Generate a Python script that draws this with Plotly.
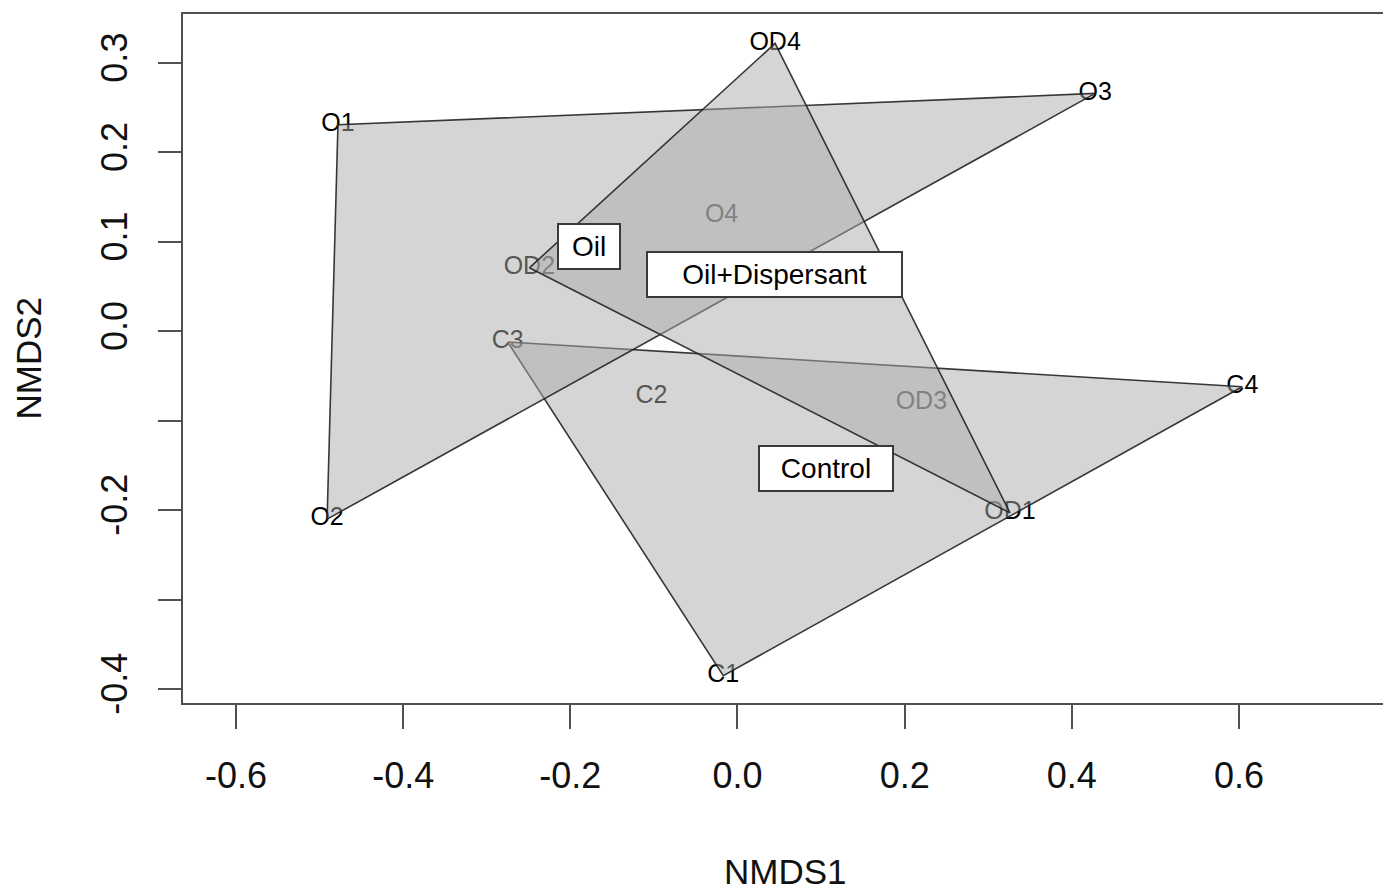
import plotly.graph_objects as go

# NMDS site scores
sites = ["O1", "O2", "O3", "O4", "OD1", "OD2", "OD3", "OD4", "C1", "C2", "C3", "C4"]
groups = ["Oil", "Oil", "Oil", "Oil",
          "Oil+Dispersant", "Oil+Dispersant", "Oil+Dispersant", "Oil+Dispersant",
          "Control", "Control", "Control", "Control"]
nmds1 = [-0.478, -0.491, 0.428, -0.019, 0.326, -0.249, 0.220, 0.045, -0.017, -0.103, -0.275, 0.604]
nmds2 = [0.231, -0.210, 0.266, 0.129, -0.203, 0.071, -0.080, 0.322, -0.385, -0.073, -0.012, -0.062]

# Group label positions
group_names = ["Oil", "Oil+Dispersant", "Control"]
group_lab_x = [-0.178, 0.044, 0.106]
group_lab_y = [0.095, 0.064, -0.153]

# Axis ticks
x_ticks = [-0.6, -0.4, -0.2, 0.0, 0.2, 0.4, 0.6]
x_ticktext = ["-0.6", "-0.4", "-0.2", "0.0", "0.2", "0.4", "0.6"]
y_ticks = [-0.4, -0.3, -0.2, -0.1, 0.0, 0.1, 0.2, 0.3]
y_ticktext = ["-0.4", "", "-0.2", "", "0.0", "0.1", "0.2", "0.3"]

FONT = "Liberation Sans, Arial, Helvetica, sans-serif"
AXIS_COL = "#505050"


def convex_hull(pts):
    pts = sorted(set(pts))
    if len(pts) <= 2:
        return pts

    def cross(o, a, b):
        return (a[0] - o[0]) * (b[1] - o[1]) - (a[1] - o[1]) * (b[0] - o[0])

    lower, upper = [], []
    for p in pts:
        while len(lower) >= 2 and cross(lower[-2], lower[-1], p) <= 0:
            lower.pop()
        lower.append(p)
    for p in reversed(pts):
        while len(upper) >= 2 and cross(upper[-2], upper[-1], p) <= 0:
            upper.pop()
        upper.append(p)
    return lower[:-1] + upper[:-1]


fig = go.Figure()

# site labels first, so the hull fills sit on top of them
fig.add_trace(go.Scatter(
    x=nmds1, y=nmds2, mode="text", text=sites,
    textposition="middle center",
    textfont=dict(family=FONT, size=25, color="#000000"),
    hoverinfo="skip", showlegend=False, cliponaxis=False,
))

# convex hulls, drawn in factor-level order
for g in ["Control", "Oil", "Oil+Dispersant"]:
    pts = [(x, y) for x, y, gg in zip(nmds1, nmds2, groups) if gg == g]
    hull = convex_hull(pts)
    hx = [p[0] for p in hull] + [hull[0][0]]
    hy = [p[1] for p in hull] + [hull[0][1]]
    fig.add_trace(go.Scatter(
        x=hx, y=hy, mode="lines", fill="toself",
        fillcolor="rgba(172,172,172,0.5)",
        line=dict(color="rgba(35,35,35,0.9)", width=1.6),
        hoverinfo="skip", showlegend=False,
    ))

box_w = {"Oil": 64, "Oil+Dispersant": 257, "Control": 136}
for name, gx, gy in zip(group_names, group_lab_x, group_lab_y):
    fig.add_annotation(
        x=gx, y=gy, xref="x", yref="y", text=name, showarrow=False,
        font=dict(family=FONT, size=28, color="#000000"),
        bgcolor="white", bordercolor="#3a3a3a", borderwidth=2, borderpad=0,
        width=box_w[name] - 4, height=43, align="center", valign="middle",
    )

# axis titles
fig.add_annotation(
    x=0.5017, y=0, xref="paper", yref="paper", yshift=-168,
    text="NMDS1", showarrow=False, xanchor="center", yanchor="middle",
    height=32, valign="middle",
    font=dict(family=FONT, size=35, color="#111111"),
)
fig.add_annotation(
    x=0, y=0.5, xref="paper", yref="paper", xshift=-155,
    text="NMDS2", showarrow=False, textangle=-90, xanchor="center", yanchor="middle",
    font=dict(family=FONT, size=35, color="#111111"),
)

fig.update_xaxes(
    range=[-0.6634, 0.7723], tickvals=x_ticks, ticktext=x_ticktext,
    showgrid=False, zeroline=False,
    showline=True, linecolor=AXIS_COL, linewidth=2, mirror=True,
    ticks="outside", ticklen=24, tickwidth=2, tickcolor=AXIS_COL,
    tickfont=dict(family=FONT, size=36, color="#111111"),
    ticklabelstandoff=16,
)
fig.update_yaxes(
    range=[-0.4156, 0.3548], tickvals=y_ticks, ticktext=y_ticktext,
    showgrid=False, zeroline=False,
    showline=True, linecolor=AXIS_COL, linewidth=2, mirror=False,
    ticks="outside", ticklen=23, tickwidth=2, tickcolor=AXIS_COL,
    tickangle=-90,
    tickfont=dict(family=FONT, size=36, color="#111111"),
    ticklabelstandoff=17,
)

fig.update_layout(
    width=1383, height=890, autosize=False,
    margin=dict(l=183, r=0, t=14, b=187),
    plot_bgcolor="white", paper_bgcolor="white",
    showlegend=False,
)

fig.write_html("out.html")
